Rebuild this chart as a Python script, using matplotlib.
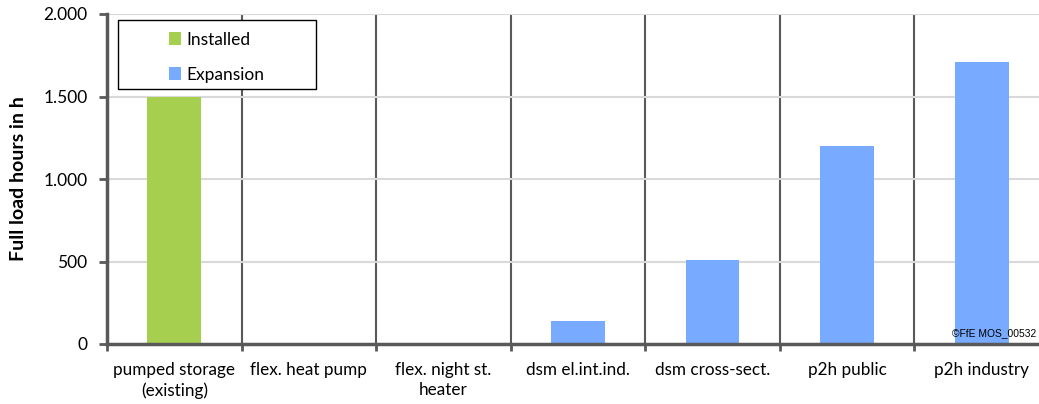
import matplotlib
matplotlib.use('Agg')
import matplotlib.pyplot as plt
from matplotlib.patches import Rectangle
from matplotlib.ticker import FuncFormatter

categories = ['pumped storage\n(existing)', 'flex. heat pump', 'flex. night st.\nheater',
              'dsm el.int.ind.', 'dsm cross-sect.', 'p2h public', 'p2h industry']
installed = [1500, 0, 0, 0, 0, 0, 0]
expansion = [0, 0, 0, 140, 510, 1200, 1710]

plt.rcParams['font.family'] = ['Lato', 'DejaVu Sans']

fig = plt.figure(figsize=(10.39, 4.04), dpi=100)
ax = fig.add_axes([107 / 1039, 60 / 404, 942 / 1039, 330 / 404])

x = list(range(len(categories)))
ax.bar(x, installed, width=0.4, color='#A6CF50', label='Installed', zorder=3)
ax.bar(x, expansion, width=0.4, color='#78AAFF', label='Expansion', zorder=3)

ax.set_xlim(-0.5, len(categories) - 0.5)
ax.set_ylim(0, 2000)
ax.set_yticks([0, 500, 1000, 1500, 2000])
ax.yaxis.set_major_formatter(FuncFormatter(lambda v, p: f'{int(v):,}'.replace(',', '.')))
ax.yaxis.grid(True, color='#D9D9D9', linewidth=1.5, zorder=0)

ax.set_xticks(x)
ax.set_xticklabels(categories, fontsize=12.3, linespacing=1.3)
ax.tick_params(axis='x', which='major', length=0, pad=13)
ax.set_xticks([i + 0.5 for i in x[:-1]] + [-0.5], minor=True)
ax.tick_params(axis='x', which='minor', length=5, width=2, color='#595959')
for b in x[:-1]:
    ax.axvline(b + 0.5, color='#595959', linewidth=1.5, zorder=1)

ax.tick_params(axis='y', length=6, width=2, color='#595959', labelsize=12.5, pad=8)

for s in ['top', 'right']:
    ax.spines[s].set_visible(False)
for s in ['left', 'bottom']:
    ax.spines[s].set_color('#595959')
    ax.spines[s].set_linewidth(2.5)
ax.spines['bottom'].set_zorder(4)

ax.set_ylabel('Full load hours in h', fontsize=14, fontweight='bold', labelpad=12)

# legend box
ax.add_patch(Rectangle((0.0117, 0.773), 0.21, 0.209, transform=ax.transAxes,
                       facecolor='white', edgecolor='black', linewidth=1, zorder=5))
ax.legend(loc='center', bbox_to_anchor=(0.0117, 0.765, 0.21, 0.209), frameon=False,
          fontsize=12.5, handlelength=0.7, handleheight=0.7, handletextpad=0.3,
          labelspacing=1.1).set_zorder(6)

ax.text(1036 / 1039, 1 - 333 / 404, '©FfE MOS_00532', transform=fig.transFigure,
        ha='right', va='center', fontsize=7.4, family='Liberation Sans', zorder=6)

plt.savefig('out.png', dpi=100)
plt.close()
